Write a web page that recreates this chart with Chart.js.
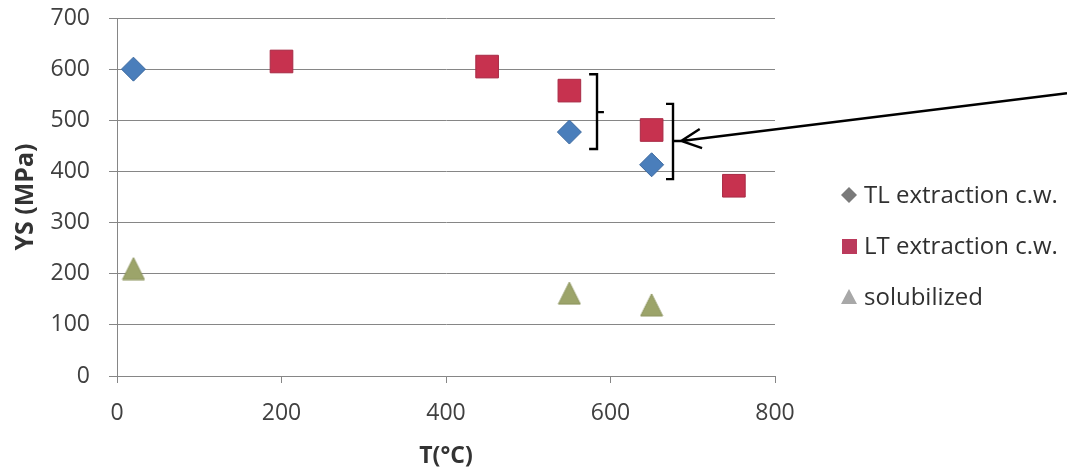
<!DOCTYPE html>
<html>
<head>
<meta charset="utf-8">
<script src="https://cdn.jsdelivr.net/npm/chart.js@4/dist/chart.umd.min.js"></script>
<style>
  html, body { margin: 0; padding: 0; background: #ffffff; }
  #wrap { width: 1067px; height: 472px; position: relative; }
</style>
</head>
<body>
<div id="wrap"><canvas id="chart" width="1067" height="472"></canvas></div>
<script>
// Yield strength vs. test temperature
const seriesNames = ['TL extraction c.w.', 'LT extraction c.w.', 'solubilized'];
const tlTemps  = [20, 550, 650];
const tlYS     = [600, 477, 413];
const ltTemps  = [200, 450, 550, 650, 750];
const ltYS     = [615, 605, 558, 481, 372];
const solTemps = [20, 550, 650];
const solYS    = [210, 162, 139];
const xTicks   = [0, 200, 400, 600, 800];
const yTicks   = [0, 100, 200, 300, 400, 500, 600, 700];

// Hand-drawn brackets and arrow, in (°C, MPa) coordinates
const bracketA = { x: 583.6, serifX: 574, tipX: 592, top: 590, bottom: 444, mid: 516 };
const bracketB = { x: 676, serifX: 667.5, tipX: 686, top: 532, bottom: 385, mid: 459.5 };
const arrowTail = { x: 1155, y: 553 };
const arrowTip  = { x: 686, y: 459.5 };

const FONT = "'Open Sans', 'Noto Sans', sans-serif";
const GRID = '#868686';

const toPoints = (xs, ys) => xs.map((x, i) => ({ x: x, y: ys[i] }));

// Triangle marker centred on its bounding box
function triangleMarker(w, h, fill, stroke) {
  const c = document.createElement('canvas');
  c.width = w + 2; c.height = h + 2;
  const g = c.getContext('2d');
  g.beginPath();
  g.moveTo(c.width / 2, 1);
  g.lineTo(c.width - 1, c.height - 1);
  g.lineTo(1, c.height - 1);
  g.closePath();
  g.fillStyle = fill; g.fill();
  if (stroke) { g.strokeStyle = stroke; g.lineWidth = 1; g.stroke(); }
  return c;
}
const solMarker = triangleMarker(22, 22, '#9ca46a', '#8b935c');

const annotations = {
  id: 'annotations',
  afterDatasetsDraw(chart) {
    const { ctx, scales: { x, y } } = chart;
    const px = v => x.getPixelForValue(v);
    const py = v => y.getPixelForValue(v);
    ctx.save();
    ctx.strokeStyle = '#000';
    ctx.lineWidth = 2.4;
    ctx.lineCap = 'butt';
    ctx.lineJoin = 'miter';
    [bracketA, bracketB].forEach(b => {
      ctx.beginPath();
      ctx.moveTo(px(b.serifX), py(b.top));
      ctx.lineTo(px(b.x), py(b.top));
      ctx.lineTo(px(b.x), py(b.bottom));
      ctx.lineTo(px(b.serifX), py(b.bottom));
      ctx.moveTo(px(b.x), py(b.mid));
      ctx.lineTo(px(b.tipX), py(b.mid));
      ctx.stroke();
    });
    // arrow
    const tx = px(arrowTip.x), ty = py(arrowTip.y);
    const sx = px(arrowTail.x), sy = py(arrowTail.y);
    ctx.beginPath();
    ctx.moveTo(sx, sy);
    ctx.lineTo(tx, ty);
    const ang = Math.atan2(sy - ty, sx - tx);
    const len = 22, spread = 0.45;
    ctx.moveTo(tx + len * Math.cos(ang + spread), ty + len * Math.sin(ang + spread));
    ctx.lineTo(tx, ty);
    ctx.lineTo(tx + len * Math.cos(ang - spread), ty + len * Math.sin(ang - spread));
    ctx.stroke();
    ctx.restore();
  }
};

// Legend at the right of the plot
const sideLegend = {
  id: 'sideLegend',
  afterDraw(chart) {
    const { ctx, chartArea } = chart;
    const mx = chartArea.right + 74;
    const tx = chartArea.right + 89;
    const rows = [195, 246, 297];
    ctx.save();
    ctx.font = '24px ' + FONT;
    ctx.fillStyle = '#303030';
    ctx.textBaseline = 'middle';
    ctx.textAlign = 'left';
    chart.data.datasets.forEach((ds, i) => {
      const cy = rows[i];
      ctx.save();
      if (i === 0) {
        ctx.fillStyle = '#7a7a7a';
        ctx.beginPath();
        ctx.moveTo(mx, cy - 8); ctx.lineTo(mx + 8, cy); ctx.lineTo(mx, cy + 8); ctx.lineTo(mx - 8, cy);
        ctx.closePath(); ctx.fill();
      } else if (i === 1) {
        ctx.fillStyle = '#bb3a5c';
        ctx.fillRect(mx - 7, cy - 7, 15, 15);
      } else {
        ctx.fillStyle = '#a8a8a8';
        ctx.beginPath();
        ctx.moveTo(mx, cy - 8); ctx.lineTo(mx + 8, cy + 7); ctx.lineTo(mx - 8, cy + 7);
        ctx.closePath(); ctx.fill();
      }
      ctx.restore();
      ctx.fillText(ds.label, tx, cy + 1);
    });
    ctx.restore();
  }
};

new Chart(document.getElementById('chart'), {
  type: 'scatter',
  data: {
    datasets: [
      {
        label: seriesNames[0],
        data: toPoints(tlTemps, tlYS),
        pointStyle: 'rectRot',
        pointRadius: 12,
        backgroundColor: '#4a7ebb',
        borderColor: '#3b689e',
        borderWidth: 1
      },
      {
        label: seriesNames[1],
        data: toPoints(ltTemps, ltYS),
        pointStyle: 'rect',
        pointRadius: 16,
        backgroundColor: '#c7324f',
        borderColor: '#a82a45',
        borderWidth: 1
      },
      {
        label: seriesNames[2],
        data: toPoints(solTemps, solYS),
        pointStyle: solMarker,
        pointRadius: 12,
        backgroundColor: '#9ca46a',
        borderColor: '#8b935c',
        borderWidth: 0
      }
    ]
  },
  options: {
    responsive: false,
    devicePixelRatio: 1,
    animation: false,
    events: [],
    layout: { padding: { left: 0, right: 292, top: 18, bottom: 0 } },
    plugins: {
      legend: { display: false },
      tooltip: { enabled: false }
    },
    scales: {
      x: {
        type: 'linear',
        min: 0,
        max: 800,
        afterBuildTicks: s => { s.ticks = xTicks.map(v => ({ value: v })); },
        afterFit: s => { s.height = 96; s.paddingLeft = 0; s.paddingRight = 0; },
        grid: { drawOnChartArea: false, color: GRID, tickColor: GRID, tickLength: 7, lineWidth: 1 },
        border: { color: GRID, width: 1 },
        ticks: { font: { family: FONT, size: 23 }, color: '#404040', padding: 17, maxRotation: 0 },
        title: {
          display: true,
          text: 'T(°C)',
          font: { family: FONT, size: 23, weight: 'bold' },
          color: '#333333',
          padding: { top: 0, bottom: 2 }
        }
      },
      y: {
        min: 0,
        max: 700,
        afterBuildTicks: s => { s.ticks = yTicks.map(v => ({ value: v })); },
        afterFit: s => { s.width = 117; s.paddingTop = 0; s.paddingBottom = 0; },
        grid: { color: GRID, tickColor: GRID, tickLength: 8, lineWidth: 1 },
        border: { color: GRID, width: 1 },
        ticks: { font: { family: FONT, size: 23 }, color: '#404040', padding: 19 },
        title: {
          display: true,
          text: 'YS (MPa)',
          font: { family: FONT, size: 25, weight: 'bold' },
          color: '#333333',
          padding: { top: 11, bottom: 0 }
        }
      }
    }
  },
  plugins: [annotations, sideLegend]
});
</script>
</body>
</html>
